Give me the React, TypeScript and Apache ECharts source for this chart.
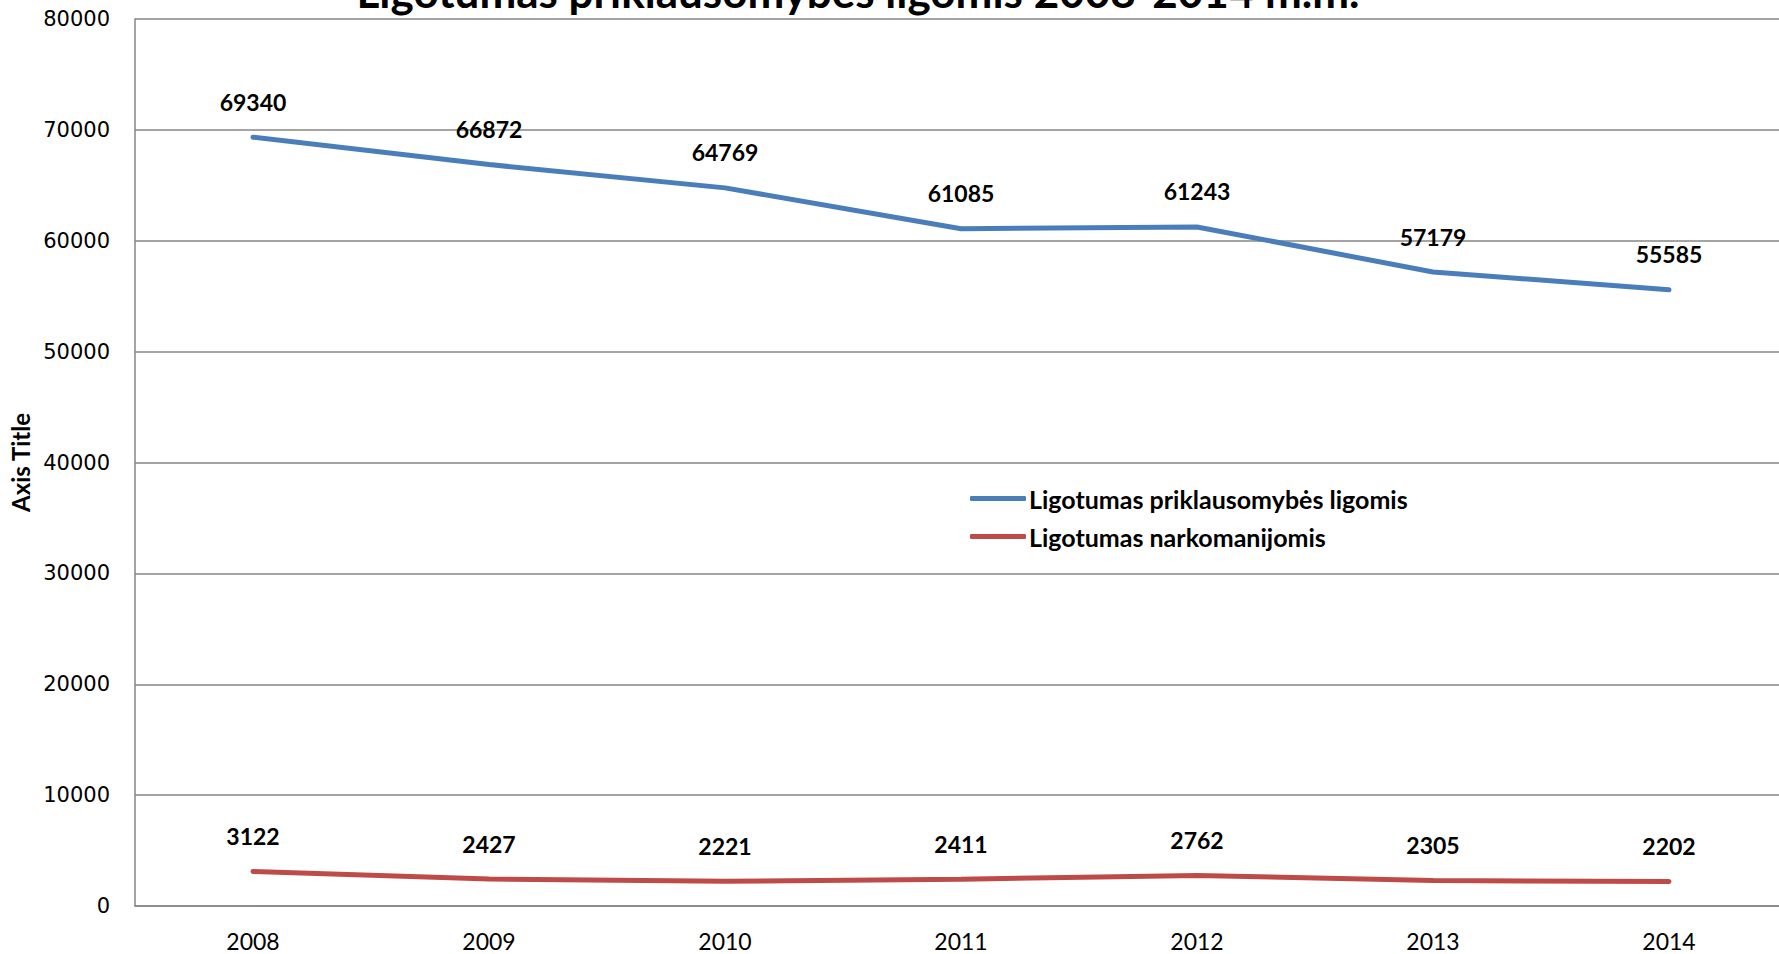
import React, { useEffect, useRef } from "react";
import * as echarts from "echarts";

const years = ["2008", "2009", "2010", "2011", "2012", "2013", "2014"];
const priklausomybes = [69340, 66872, 64769, 61085, 61243, 57179, 55585];
const narkomanijos = [3122, 2427, 2221, 2411, 2762, 2305, 2202];
const seriesNames = ["Ligotumas priklausomybės ligomis", "Ligotumas narkomanijomis"];
const titleText = "Ligotumas priklausomybės ligomis 2008-2014 m.m.";

export default function App() {
  const ref = useRef<HTMLDivElement>(null);
  useEffect(() => {
    const chart = echarts.init(ref.current!, null, { renderer: "svg" });
    const labelStyle = {
      show: true,
      position: "top" as const,
      distance: 24,
      fontFamily: "Lato",
      fontWeight: "bold" as const,
      fontSize: 23,
      color: "#000",
    };
    chart.setOption({
      animation: false,
      backgroundColor: "#fff",
      graphic: [
        {
          type: "text",
          x: 858,
          y: -9,
          z: 100,
          style: {
            text: titleText,
            fontFamily: "Lato",
            fontWeight: "bold",
            fontSize: 44,
            fill: "#000",
            textAlign: "center",
            textVerticalAlign: "middle",
          },
        },
      ],
      grid: { left: 135, top: 19, width: 1652, height: 887, containLabel: false },
      legend: {
        orient: "vertical",
        left: 965,
        top: 481,
        itemWidth: 56,
        itemHeight: 5,
        itemGap: 13,
        icon: "roundRect",
        data: seriesNames,
        textStyle: { fontFamily: "Lato", fontWeight: "bold", fontSize: 25, color: "#000", padding: [0, 0, 0, -2] },
      },
      xAxis: {
        type: "category",
        data: years,
        boundaryGap: true,
        axisLine: { lineStyle: { color: "#868686", width: 1.5 } },
        axisTick: { show: false },
        axisLabel: { fontFamily: "Lato", fontSize: 23, color: "#000", margin: 23 },
      },
      yAxis: {
        type: "value",
        min: 0,
        max: 80000,
        interval: 10000,
        name: "Axis Title",
        nameLocation: "middle",
        nameGap: 103,
        nameTextStyle: { fontFamily: "Lato", fontWeight: "bold", fontSize: 24, color: "#000" },
        axisLine: { show: true, lineStyle: { color: "#868686", width: 1.5 } },
        axisTick: { show: false },
        splitLine: { lineStyle: { color: "#868686", width: 1.5 } },
        axisLabel: {
          fontFamily: "DejaVu Sans",
          fontSize: 21,
          color: "#000",
          margin: 25,
          formatter: (v: number) => String(v),
        },
      },
      series: [
        {
          name: seriesNames[0],
          type: "line",
          data: priklausomybes,
          showSymbol: true,
          symbol: "circle",
          symbolSize: 0,
          lineStyle: { color: "#4A7EBB", width: 5, cap: "round" },
          itemStyle: { color: "#4A7EBB" },
          label: labelStyle,
        },
        {
          name: seriesNames[1],
          type: "line",
          data: narkomanijos,
          showSymbol: true,
          symbol: "circle",
          symbolSize: 0,
          lineStyle: { color: "#BE4B48", width: 5, cap: "round" },
          itemStyle: { color: "#BE4B48" },
          label: labelStyle,
        },
      ],
    });
    return () => chart.dispose();
  }, []);
  return (
    <div
      style={{ position: "fixed", left: 0, top: 0, width: 1779, height: 954, overflow: "hidden", background: "#fff" }}
    >
      <div ref={ref} style={{ width: 1800, height: 954 }} />
    </div>
  );
}
